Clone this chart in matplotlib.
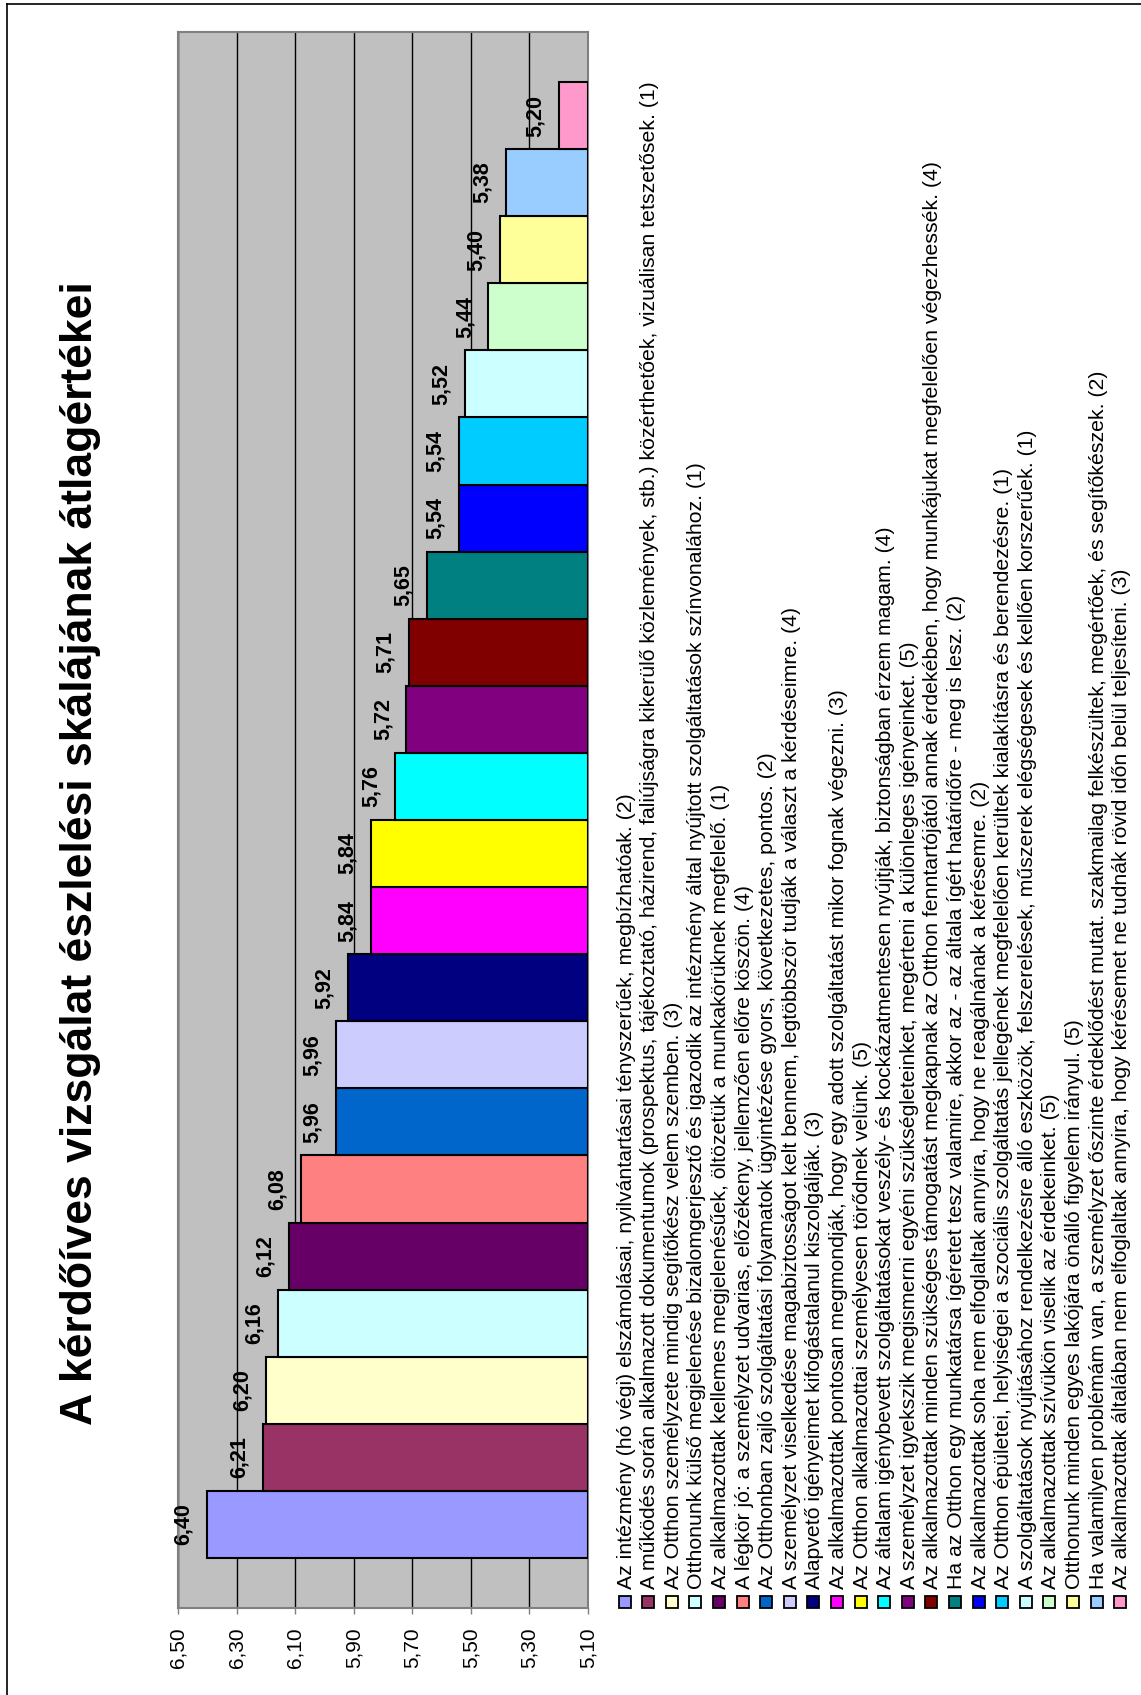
"""
A kérdőíves vizsgálat észlelési skálájának átlagértékei
Elforgatott (fekvő) oszlopdiagram, jelmagyarázattal.
"""

import matplotlib
matplotlib.use('Agg')
import matplotlib.pyplot as plt
from matplotlib.patches import Rectangle
from matplotlib.lines import Line2D

plt.rcParams['font.family'] = ['Liberation Sans', 'DejaVu Sans']

# Kérdések (jelmagyarázat) és átlagértékek
kerdesek = [
    'Az intézmény (hó végi) elszámolásai, nyilvántartásai tényszerűek, megbízhatóak. (2)',
    'A működés során alkalmazott dokumentumok (prospektus, tájékoztató, házirend, faliújságra kikerülő közlemények, stb.) közérthetőek, vizuálisan tetszetősek. (1)',
    'Az Otthon személyzete mindig segítőkész velem szemben. (3)',
    'Otthonunk külső megjelenése bizalomgerjesztő és igazodik az intézmény által nyújtott szolgáltatások színvonalához. (1)',
    'Az alkalmazottak kellemes megjelenésűek, öltözetük a munkakörüknek megfelelő. (1)',
    'A légkör jó: a személyzet udvarias, előzékeny, jellemzően előre köszön. (4)',
    'Az Otthonban zajló szolgáltatási folyamatok ügyintézése gyors, következetes, pontos. (2)',
    'A személyzet viselkedése magabiztosságot kelt bennem, legtöbbször tudják a választ a kérdéseimre. (4)',
    'Alapvető igényeimet kifogástalanul kiszolgálják. (3)',
    'Az alkalmazottak pontosan megmondják, hogy egy adott szolgáltatást mikor fognak végezni. (3)',
    'Az Otthon alkalmazottai személyesen törődnek velünk. (5)',
    'Az általam igénybevett szolgáltatásokat veszély- és kockázatmentesen nyújtják, biztonságban érzem magam. (4)',
    'A személyzet igyekszik megismerni egyéni szükségleteinket, megérteni a különleges igényeinket. (5)',
    'Az alkalmazottak minden szükséges támogatást megkapnak az Otthon fenntartójától annak érdekében, hogy munkájukat megfelelően végezhessék. (4)',
    'Ha az Otthon egy munkatársa ígéretet tesz valamire, akkor az - az általa ígért határidőre - meg is lesz. (2)',
    'Az alkalmazottak soha nem elfoglaltak annyira, hogy ne reagálnának a kérésemre. (2)',
    'Az Otthon épületei, helyiségei a szociális szolgáltatás jellegének megfelelően kerültek kialakításra és berendezésre. (1)',
    'A szolgáltatások nyújtásához rendelkezésre álló eszközök, felszerelések, műszerek elégségesek és kellően korszerűek. (1)',
    'Az alkalmazottak szívükön viselik az érdekeinket. (5)',
    'Otthonunk minden egyes lakójára önálló figyelem irányul. (5)',
    'Ha valamilyen problémám van, a személyzet őszinte érdeklődést mutat. szakmailag felkészültek, megértőek, és segítőkészek. (2)',
    'Az alkalmazottak általában nem elfoglaltak annyira, hogy kérésemet ne tudnák rövid időn belül teljesíteni. (3)',
]
atlagok = [6.40, 6.21, 6.20, 6.16, 6.12, 6.08, 5.96, 5.96, 5.92, 5.84, 5.84,
           5.76, 5.72, 5.71, 5.65, 5.54, 5.54, 5.52, 5.44, 5.40, 5.38, 5.20]
szinek = ['#9999FF', '#993366', '#FFFFCC', '#CCFFFF', '#660066', '#FF8080',
          '#0066CC', '#CCCCFF', '#000080', '#FF00FF', '#FFFF00', '#00FFFF',
          '#800080', '#800000', '#008080', '#0000FF', '#00CCFF', '#CCFFFF',
          '#CCFFCC', '#FFFF99', '#99CCFF', '#FF99CC']
tengely_ertekek = [6.50, 6.30, 6.10, 5.90, 5.70, 5.50, 5.30, 5.10]
alap = 5.10

W, H = 1141, 1695
fig = plt.figure(figsize=(W / 100, H / 100), dpi=100)


def fx(px):
    return px / W


def fy(py):
    return 1 - py / H


# keret
fig.add_artist(Line2D([fx(7), 1.0], [fy(4), fy(4)], color='black', lw=1.2))
fig.add_artist(Line2D([fx(7), fx(7)], [fy(4), 0.0], color='black', lw=1.2))

# rajzterület
ax = fig.add_axes([fx(178), fy(1608), fx(588) - fx(178), (1608 - 32) / H])
ax.set_facecolor('#C0C0C0')

pos = list(range(len(atlagok)))
ax.barh(pos, [v - alap for v in atlagok], left=alap, height=1.0,
        color=szinek, edgecolor='black', linewidth=1.5, zorder=3)

for p, v in zip(pos, atlagok):
    ax.annotate(f'{v:.2f}'.replace('.', ','), xy=(v, p), xytext=(-13, 0),
                textcoords='offset points', rotation=90, rotation_mode='anchor',
                ha='center', va='baseline', fontsize=15.5, fontweight='bold',
                zorder=4)

ax.set_xlim(6.5, 5.1)
ax.set_ylim(-1.245, len(atlagok) - 1 + 1.245)
ax.set_xticks(tengely_ertekek)
ax.set_xticklabels([f'{t:.2f}'.replace('.', ',') for t in tengely_ertekek],
                   rotation=90, fontsize=15)
ax.tick_params(axis='x', length=4, width=1, pad=10, color='#808080')
ax.set_yticks([])
ax.grid(axis='x', color='black', linewidth=1, zorder=1)
for s in ax.spines.values():
    s.set_color('#808080')
    s.set_linewidth(1.5)

# cím
fig.text(fx(92), fy(853), 'A kérdőíves vizsgálat észlelési skálájának átlagértékei',
         rotation=90, rotation_mode='anchor', ha='center', va='baseline',
         fontsize=32, fontweight='bold')

# jelmagyarázat
lepes = 23.6
for k, (szoveg, szin) in enumerate(zip(kerdesek, szinek)):
    cx = 624.5 + lepes * k
    fig.add_artist(Rectangle((fx(cx - 6), fy(1608)), fx(12), 12 / H,
                             facecolor=szin, edgecolor='black', lw=1.3,
                             transform=fig.transFigure))
    fig.text(fx(cx + 7), fy(1589), szoveg, rotation=90, rotation_mode='anchor',
             ha='left', va='baseline', fontsize=15.3)

fig.savefig('out.png', dpi=100)
